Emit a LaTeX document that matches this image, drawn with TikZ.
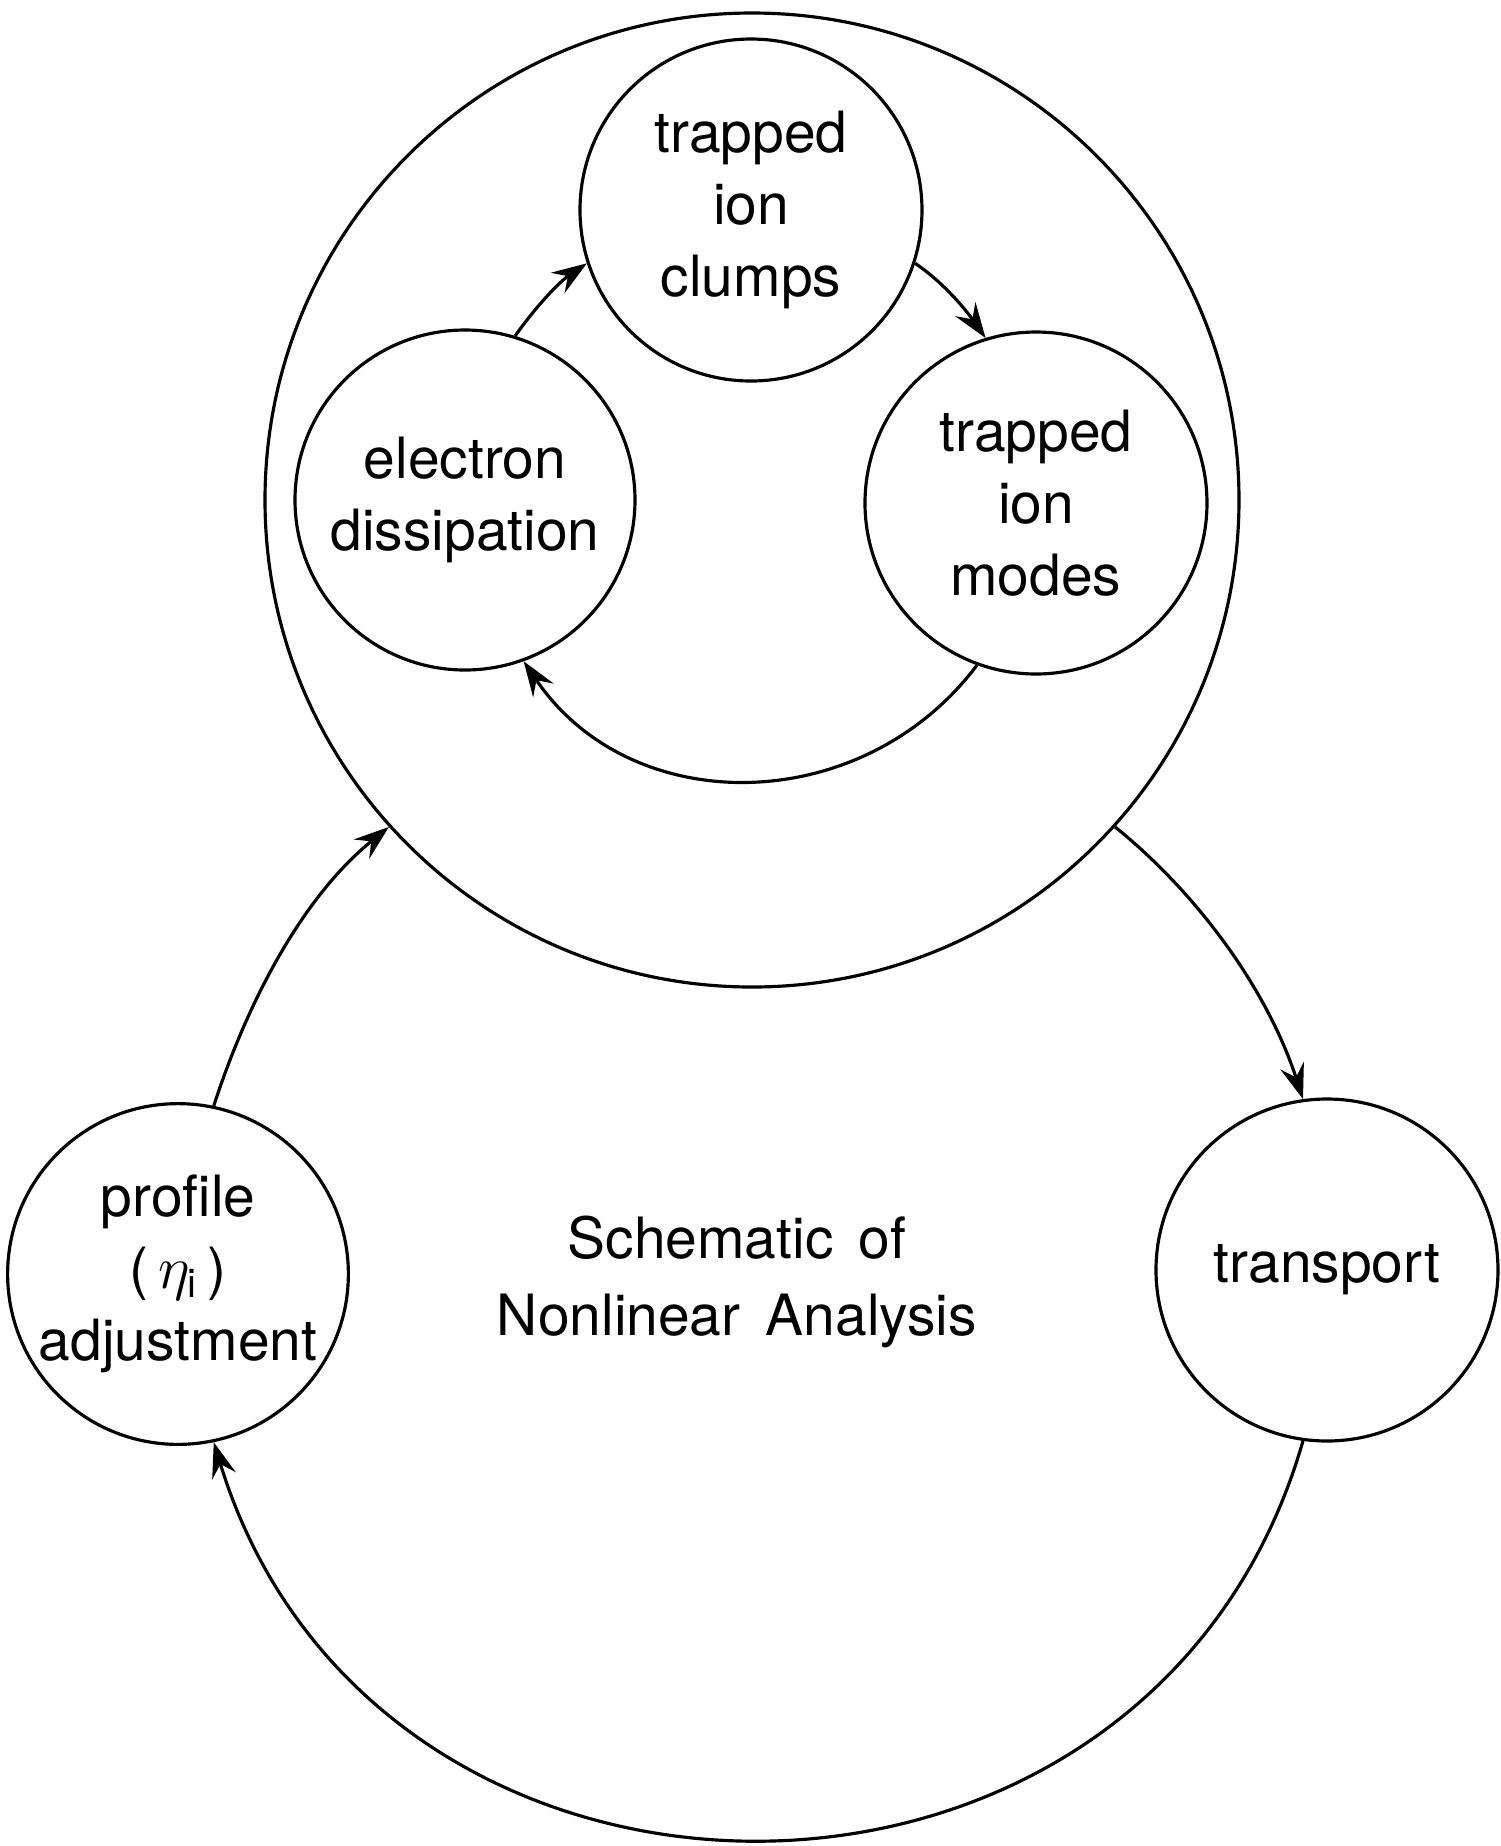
\documentclass[tikz,border=0pt]{standalone}
\usepackage{fontspec}
\setmainfont{TeX Gyre Heros}[WordSpace=1.6]
\usetikzlibrary{arrows.meta}
\begin{document}
\begin{tikzpicture}
		\tikzset{vertex/.style = {shape=circle,draw,line width=0.9pt,inner sep=0pt,align=center,font=\fontsize{16.2}{20.4}\selectfont}}
		\tikzset{edge/.style = {-{Stealth[length=10pt,width=7pt,inset=3.5pt]},line width=0.9pt}}
		\useasboundingbox (0,0) rectangle (15.01,-18.46);
		\node[vertex,minimum size=9.74cm] (core) at (7.52,-5.00) {};
		\node[vertex,minimum size=3.42cm] (clumps) at (7.51,-2.10) {trapped\\ion\\clumps};
		\node[vertex,minimum size=3.40cm] (electron) at (4.65,-5.00) {electron\\dissipation};
		\node[vertex,minimum size=3.42cm] (modes) at (10.36,-5.03) {trapped\\ion\\modes};
		\node[vertex,minimum size=3.36cm] (profile) at (1.78,-12.74) {profile\\(\,$\eta_\mathrm{i}$\,)\\adjustment};
		\node[vertex,minimum size=3.42cm] (transport) at (13.27,-12.70) {transport};
		\node[align=center,font=\fontsize{16.2}{21.9}\selectfont] (title) at (7.37,-12.82) {Schematic of\\Nonlinear Analysis};
		\path[edge] (electron.73) edge[out=55,in=214,looseness=0.85] (clumps.198);
		\path[edge] (clumps.342) edge[out=-34,in=125,looseness=0.85] (modes.107);
		\path[edge] (modes.250) edge[out=233,in=-56,looseness=1.08] (electron.290);
		\path[edge] (profile.78) edge[out=72,in=219,looseness=0.86] (core.222);
		\path[edge] (core.318) edge[out=-39,in=108,looseness=0.86] (transport.98);
		\path[edge] (transport.262) edge[out=254,in=-73,looseness=1.3] (profile.282);
	\end{tikzpicture}
\end{document}
